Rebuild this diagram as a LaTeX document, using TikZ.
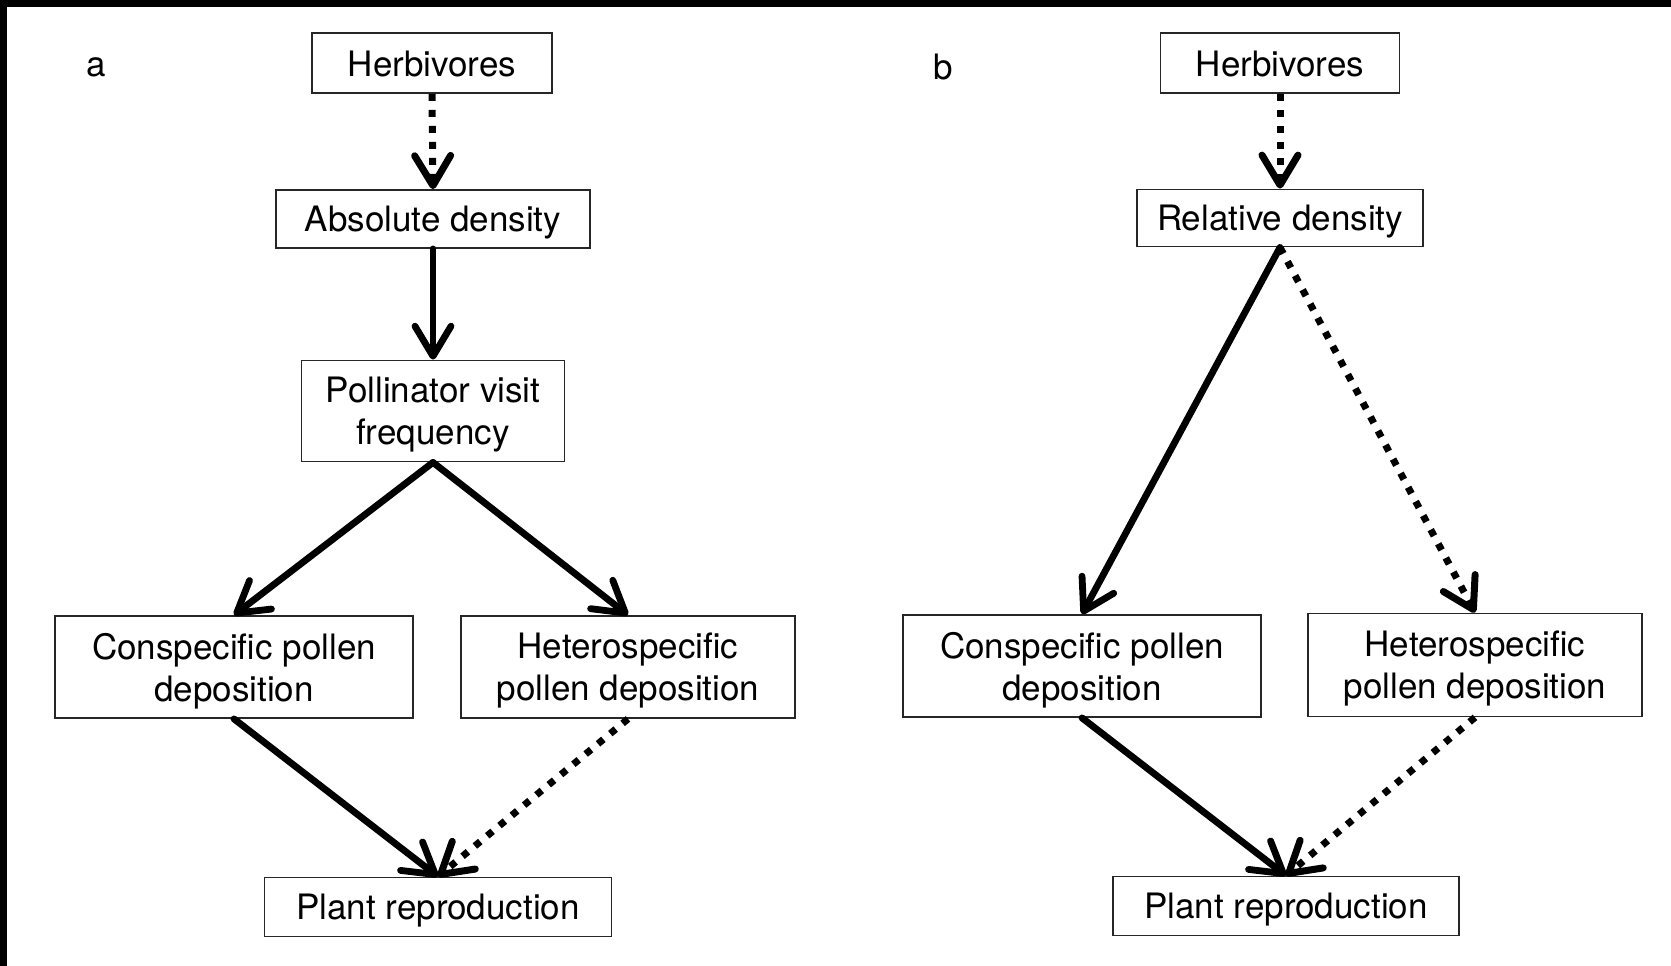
\documentclass[tikz,border=0pt]{standalone}
\usepackage{fontspec}
\setmainfont{TeX Gyre Heros}
\usetikzlibrary{arrows.meta}
\begin{document}
\begin{tikzpicture}[x=1pt,y=-1pt,
  box/.style={draw=black!85,line width=1.8pt,inner sep=0pt,align=center,text depth=0pt,
    font=\fontsize{35}{42}\selectfont},
  lbl/.style={inner sep=0pt,font=\fontsize{35}{42}\selectfont},
  solidarrow/.style={line width=6.8pt,line cap=round,
    -{Straight Barb[length=30pt,width=36pt,round]}},
  dotarrow/.style={line width=7pt,dash pattern=on 7pt off 9pt,
    -{Straight Barb[length=30pt,width=36pt,round]}}]
\useasboundingbox (0,0) rectangle (1671,966);
\fill[white] (0,0) rectangle (1671,966);
\fill[black] (0,0) rectangle (1671,7);
\fill[black] (0,0) rectangle (7,966);
% panel a
\node[lbl] (la) at (96,67) {a};
\node[box,minimum width=240pt,minimum height=60pt] (ha) at (432,63) {\raisebox{-2pt}{Herbivores}};
\node[box,minimum width=314pt,minimum height=58pt] (ad) at (433,219) {Absolute density};
\node[box,minimum width=263pt,minimum height=101pt] (pv) at (433,411) {Pollinator visit\\frequency};
\node[box,minimum width=358pt,minimum height=102pt] (ca) at (234,667) {Conspecific pollen\\deposition};
\node[box,minimum width=334pt,minimum height=102pt] (hsa) at (628,667) {Heterospecific\\pollen deposition};
\node[box,minimum width=347pt,minimum height=59pt] (pa) at (438,907) {Plant reproduction};
\draw[dotarrow] (ha.south) -- (ad.north);
\draw[solidarrow] (ad.south) -- (pv.north);
\draw[solidarrow] (pv.south) -- (ca.north);
\draw[solidarrow] (pv.south) -- (hsa.north);
\draw[solidarrow] (ca.south) -- (pa.north);
\draw[dotarrow] (hsa.south) -- (pa.north);
% panel b
\node[lbl] (lb) at (943,67) {b};
\node[box,minimum width=239pt,minimum height=60pt] (hb) at (1280,63) {\raisebox{-2pt}{Herbivores}};
\node[box,minimum width=286pt,minimum height=57pt] (rd) at (1280,218) {Relative density};
\node[box,minimum width=358pt,minimum height=102pt] (cb) at (1082,666) {Conspecific pollen\\deposition};
\node[box,minimum width=334pt,minimum height=103pt] (hsb) at (1475,665) {Heterospecific\\pollen deposition};
\node[box,minimum width=346pt,minimum height=59pt] (pb) at (1286,906) {Plant reproduction};
\draw[dotarrow] (hb.south) -- (rd.north);
\draw[solidarrow] (rd.south) -- (cb.north);
\draw[dotarrow] (rd.south) -- (hsb.north);
\draw[solidarrow] (cb.south) -- (pb.north);
\draw[dotarrow] (hsb.south) -- (pb.north);
\end{tikzpicture}
\end{document}
